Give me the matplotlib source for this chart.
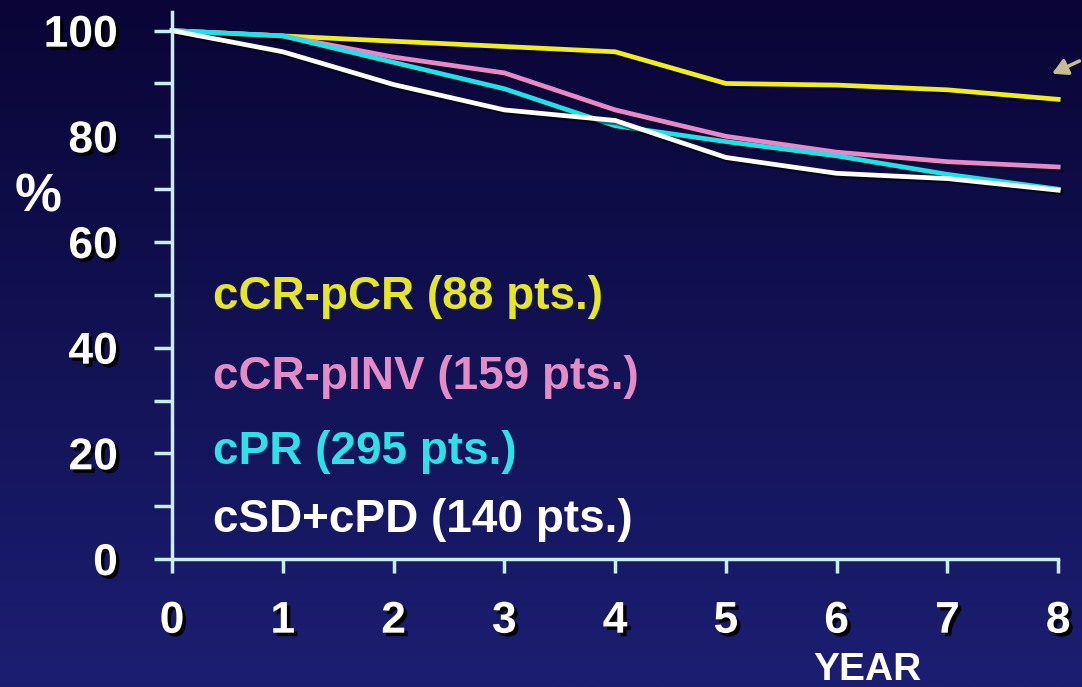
import numpy as np
import matplotlib
matplotlib.use("Agg")
import matplotlib.pyplot as plt
import matplotlib.patheffects as pe
from matplotlib.colors import LinearSegmentedColormap
from matplotlib.patches import FancyArrowPatch

plt.rcParams['font.family'] = ['Liberation Sans', 'DejaVu Sans']

years = [0, 1, 2, 3, 4, 5, 6, 7, 8]
ccr_pcr = [100, 99, 98, 97, 96, 90, 89.7, 88.8, 87]
ccr_pinv = [100, 99, 95, 92, 85, 80, 77, 75.2, 74.2]
cpr = [100, 99, 94, 89, 82, 79, 76.3, 72.8, 70]
csd_cpd = [100, 96, 89.8, 85, 83, 76, 73, 72, 69.8]

labels = ["cCR-pCR (88 pts.)", "cCR-pINV (159 pts.)", "cPR (295 pts.)", "cSD+cPD (140 pts.)"]
line_colors = ["#f2ee1c", "#e888c8", "#1ee2ea", "#ffffff"]
text_colors = ["#e6e628", "#e48cc6", "#2ee0e8", "#ffffff"]
label_y = [49.6, 34.4, 20.3, 7.4]

y_ticks = [0, 20, 40, 60, 80, 100]
x_ticks = years

fig = plt.figure(figsize=(10.82, 6.87), dpi=100)

# background gradient
bg = fig.add_axes([0, 0, 1, 1], zorder=-10)
grad = np.linspace(0, 1, 256).reshape(-1, 1)
cmap = LinearSegmentedColormap.from_list("bg", ["#0a0536", "#121254", "#1c1e72"])
bg.imshow(grad, aspect="auto", cmap=cmap, extent=[0, 1, 0, 1], origin="upper")
bg.set_axis_off()

ax = fig.add_axes([0.159, 0.1863, 0.819, 0.796])
ax.patch.set_alpha(0)

axis_col = "#c8eef0"
shadow = [pe.SimplePatchShadow(offset=(2.5, -2.5), shadow_rgbFace="black", alpha=0.9), pe.Normal()]
line_shadow = [pe.Stroke(offset=(1.5, -1.5), linewidth=4, foreground="black", alpha=0.5), pe.Normal()]

series = [ccr_pcr, ccr_pinv, cpr, csd_cpd]
for vals, col in zip(series, line_colors):
    ax.plot(years, vals, color=col, lw=3.4, solid_joinstyle="miter",
            path_effects=line_shadow, clip_on=False)

for lab, col, yy in zip(labels, text_colors, label_y):
    ax.text(0.37, yy, lab, color=col, fontsize=33, fontweight="bold", va="center", ha="left")

ax.set_xlim(0, 8)
ax.set_ylim(0, 103.5)
for s in ["top", "right"]:
    ax.spines[s].set_visible(False)
for s in ["left", "bottom"]:
    ax.spines[s].set_color(axis_col)
    ax.spines[s].set_linewidth(2.5)

ax.set_yticks(range(0, 101, 10))
ax.set_yticklabels([str(v) if v in y_ticks else "" for v in range(0, 101, 10)])
ax.set_xticks(x_ticks)
ax.set_xticklabels([str(v) for v in x_ticks])
ax.tick_params(axis="y", length=13, width=2.5, color=axis_col, pad=26, labelsize=32, labelcolor="white")
ax.tick_params(axis="x", length=10, width=2.5, color=axis_col, pad=20, labelsize=32, labelcolor="white")
for t in ax.get_yticklabels() + ax.get_xticklabels():
    t.set_fontweight("bold")
    t.set_path_effects(shadow)

fig.text(0.035, 0.712, "%", color="white", fontsize=38, fontweight="bold", ha="center", va="center")
fig.text(0.802, 0.025, "YEAR", color="white", fontsize=28, fontweight="bold", ha="center", va="center")

fig.patches.append(FancyArrowPatch(
    (1.0, 0.913), (0.970, 0.891), transform=fig.transFigure,
    arrowstyle="-|>,head_length=9,head_width=5", color="#c8bc90", lw=2.5))

fig.savefig("out.png", dpi=100)
